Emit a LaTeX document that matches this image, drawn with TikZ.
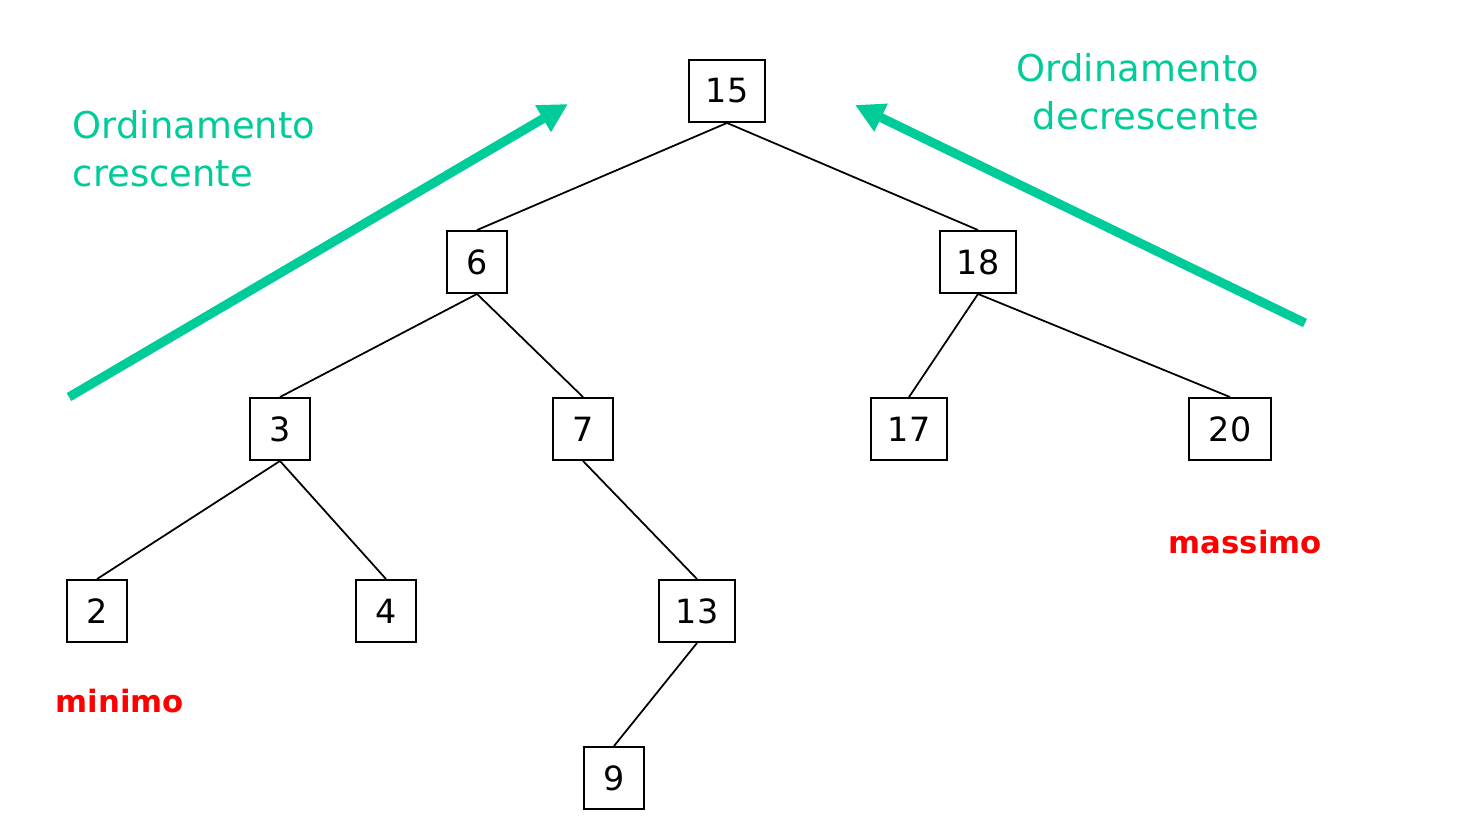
\documentclass[tikz,border=0pt]{standalone}
\usepackage{fontspec}
\setmainfont{DejaVu Sans}
\usepackage{xcolor}
\definecolor{ordgreen}{RGB}{0,204,153}
\tikzset{keybox/.style={draw,line width=1.1pt,minimum width=1.2cm,minimum height=1.24cm,inner sep=0pt,font=\fontsize{19}{19}\selectfont}}
\tikzset{widebox/.style={keybox,minimum width=1.52cm}}
\tikzset{ordarrow/.style={-{Triangle[length=0.58cm,width=0.58cm]},line width=5.2pt,ordgreen}}
\usetikzlibrary{arrows.meta}

\begin{document}
\begin{tikzpicture}[x=0.02cm,y=-0.02cm]
  \useasboundingbox (0,0) rectangle (1462,821);
  \pgfsetlinewidth{1pt}

  \node [widebox] (k15) at (727,91)  {15};
  \node [keybox]  (k6)  at (477,262) {6};
  \node [widebox] (k18) at (978,262) {18};
  \node [keybox]  (k3)  at (280,429) {3};
  \node [keybox]  (k7)  at (583,429) {7};
  \node [widebox] (k17) at (909,429) {17};
  \node [widebox,minimum width=1.64cm] (k20) at (1230,429) {20};
  \node [keybox]  (k2)  at (97,611)  {2};
  \node [keybox]  (k4)  at (386,611) {4};
  \node [widebox] (k13) at (697,611) {13};
  \node [keybox]  (k9)  at (614,778) {9};

  \draw (k15.south) -- (k6.north);
  \draw (k15.south) -- (k18.north);
  \draw (k6.south) -- (k3.north);
  \draw (k6.south) -- (k7.north);
  \draw (k18.south) -- (k17.north);
  \draw (k18.south) -- (k20.north);
  \draw (k3.south) -- (k2.north);
  \draw (k3.south) -- (k4.north);
  \draw (k7.south) -- (k13.north);
  \draw (k13.south) -- (k9.north);

  % direzioni di visita
  \coordinate (cs) at (69,397);
  \coordinate (ce) at (568,104);
  \coordinate (ds) at (1305,323);
  \coordinate (de) at (855,105);
  \draw [ordarrow] (cs) -- (ce);
  \draw [ordarrow] (ds) -- (de);

  \node [anchor=north west,inner sep=0pt,align=left,ordgreen,font=\fontsize{21}{27}\selectfont]
    (cresc) at (72,110) {Ordinamento\\crescente};
  \node [anchor=north east,inner sep=0pt,align=right,ordgreen,font=\fontsize{21}{27}\selectfont]
    (decresc) at (1260,53) {Ordinamento\\decrescente};

  \node [anchor=base west,inner sep=0pt,red,font=\fontsize{17.5}{17.5}\selectfont\bfseries]
    (min) at (55,712) {minimo};
  \node [anchor=base west,inner sep=0pt,red,font=\fontsize{17.5}{17.5}\selectfont\bfseries]
    (max) at (1168,553) {massimo};
\end{tikzpicture}
\end{document}
